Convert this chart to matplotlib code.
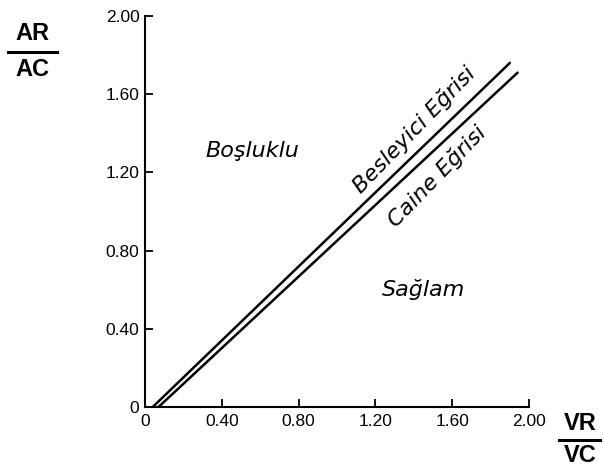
import matplotlib
matplotlib.use("Agg")
import matplotlib.pyplot as plt
from matplotlib.lines import Line2D

# Data
besleyici_x = [0.04, 1.90]
besleyici_y = [0.00, 1.76]
caine_x = [0.07, 1.94]
caine_y = [0.00, 1.71]
x_ticks = [0, 0.40, 0.80, 1.20, 1.60, 2.00]
x_ticklabels = ["0", "0.40", "0.80", "1.20", "1.60", "2.00"]
y_ticks = [0, 0.40, 0.80, 1.20, 1.60, 2.00]
y_ticklabels = ["0", "0.40", "0.80", "1.20", "1.60", "2.00"]

plt.rcParams['font.family'] = ['Liberation Sans', 'DejaVu Sans']

fig = plt.figure(figsize=(6.04, 4.69), dpi=100)
ax = fig.add_axes([0.240, 0.132, 0.636, 0.834])

ax.plot(besleyici_x, besleyici_y, color='black', lw=1.8, solid_capstyle='round')
ax.plot(caine_x, caine_y, color='black', lw=1.8, solid_capstyle='round')

ax.set_xlim(0, 2.0)
ax.set_ylim(0, 2.0)
ax.spines['top'].set_visible(False)
ax.spines['right'].set_visible(False)
ax.spines['left'].set_linewidth(1.5)
ax.spines['bottom'].set_linewidth(1.5)
ax.set_xticks(x_ticks)
ax.set_xticklabels(x_ticklabels)
ax.set_yticks(y_ticks)
ax.set_yticklabels(y_ticklabels)
ax.tick_params(axis='both', direction='in', length=6, width=1.3, labelsize=12.5, pad=5)
ax.tick_params(axis='y', pad=4)

hand = dict(style='italic', fontsize=16, color='black', family=['DejaVu Sans'])
ax.text(0.56, 1.31, "Boşluklu", ha='center', va='center', **hand)
ax.text(1.45, 0.60, "Sağlam", ha='center', va='center', **hand)
ax.text(1.40, 1.42, "Besleyici Eğrisi", ha='center', va='center', rotation=46,
        rotation_mode='anchor', **hand)
ax.text(1.52, 1.18, "Caine Eğrisi", ha='center', va='center', rotation=46,
        rotation_mode='anchor', **hand)

# axis labels as fractions
lab = dict(fontsize=17, fontweight='bold', color='black', ha='center', va='center')
fig.text(32/604, 1 - 34/469, "AR", **lab)
fig.text(32/604, 1 - 70/469, "AC", **lab)
fig.add_artist(Line2D([8/604, 57/604], [1 - 52/469, 1 - 52/469], color='black', lw=2.2))

fig.text(580/604, 1 - 423/469, "VR", **lab)
fig.text(580/604, 1 - 455/469, "VC", **lab)
fig.add_artist(Line2D([559/604, 600/604], [1 - 440/469, 1 - 440/469], color='black', lw=2.2))

fig.savefig("out.png", dpi=100)
